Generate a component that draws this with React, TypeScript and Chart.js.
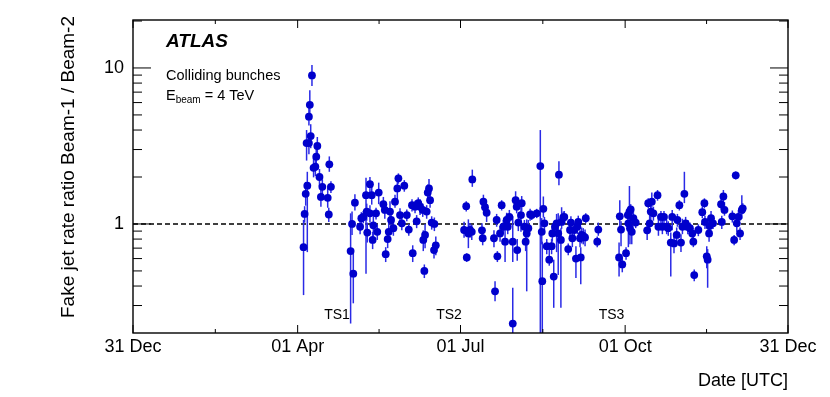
import React, { useEffect, useRef } from 'react';
import { Chart, registerables } from 'chart.js';

Chart.register(...registerables);

// Days since 31 Dec 2011 (2012 run)
const days = [
  95.3, 95.9, 96.5, 97.4, 97.0, 98.3, 98.3, 98.8, 100.0, 99.3,
  100.9, 101.9, 103.0, 102.4, 104.2, 105.8, 105.0, 109.7, 110.6, 108.8,
  109.4, 121.6, 123.1, 122.4, 124.0, 126.9, 127.6, 128.7, 130.2, 130.6,
  130.9, 132.4, 133.4, 132.4, 133.9, 134.3, 135.8, 136.5, 137.3, 139.9,
  140.7, 141.2, 142.3, 142.9, 143.6, 144.2, 145.5, 146.4, 147.7, 148.3,
  149.2, 150.2, 151.6, 153.0, 154.1, 156.3, 155.9, 157.6, 158.5, 159.4,
  160.4, 161.9, 162.2, 162.8, 163.2, 164.1, 164.7, 165.4, 166.0, 166.9,
  168.2, 169.2, 168.4,
  186.2, 185.0, 186.5, 187.4, 188.3, 189.6, 189.3, 195.0, 195.4, 195.8,
  196.7, 197.6, 201.7, 202.3, 203.2, 203.6, 205.1, 206.0, 206.9, 207.9,
  208.8, 209.4, 210.3, 212.2, 212.2, 213.8, 214.4, 214.7, 215.3, 217.2,
  216.8, 218.7, 219.4, 220.0, 220.9, 221.9, 222.8, 225.6, 227.6, 228.7,
  228.4, 229.3, 229.9, 231.2, 232.6, 233.9, 235.1, 234.3, 235.8, 236.7,
  237.6, 238.0, 239.1, 239.5, 240.4, 241.0, 243.2, 244.2, 244.7, 245.5,
  246.6, 247.5, 248.3, 248.8, 249.8, 250.2, 250.7, 251.6, 253.0, 252.6,
  259.4, 260.0,
  271.6, 272.0, 272.7, 273.4, 275.5, 276.5, 277.4, 278.1, 277.7, 278.7,
  279.6, 280.9, 276.8, 287.3, 287.9, 288.7, 289.3, 289.9, 290.8, 293.1,
  293.6, 295.0, 295.8, 296.7, 298.2, 299.1, 300.5, 301.3, 302.3, 303.8,
  304.2, 305.3, 306.2, 307.0, 308.1, 308.8, 310.0, 311.2, 312.5, 313.1,
  313.6, 315.9, 318.1, 319.3, 319.6, 320.6, 321.1, 321.9, 322.1, 323.0,
  324.1, 328.6, 329.0, 329.9, 330.5, 334.9, 335.9, 336.8, 337.4, 338.3,
  339.2, 340.2, 340.7,
];

const ratios = [
  0.71, 1.16, 1.56, 1.76, 3.3, 3.3, 4.87, 5.8, 8.96, 3.66,
  2.29, 2.33, 3.16, 2.7, 2.0, 1.73, 1.49, 2.41, 1.73, 1.47,
  1.15, 0.67, 0.48, 1.0, 1.37, 0.96, 1.09, 1.11, 1.53, 1.2,
  0.88, 1.8, 1.53, 1.17, 0.79, 0.98, 1.17, 0.89, 1.59, 1.34,
  1.23, 0.64, 0.8, 0.89, 1.2, 1.06, 0.94, 1.39, 1.69, 1.96,
  1.14, 1.01, 1.76, 1.14, 0.92, 0.65, 1.32, 1.29, 1.04, 1.36,
  1.29, 1.23, 0.79, 0.5, 0.85, 1.2, 1.59, 1.69, 1.42, 1.02,
  0.68, 0.73, 1.0,
  1.3, 0.915, 0.61, 0.87, 0.915, 1.93, 0.89, 0.91, 0.81, 1.39,
  1.28, 1.18, 0.81, 0.37, 1.06, 0.62, 0.87, 1.32, 0.96, 0.77,
  1.06, 0.96, 1.11, 0.23, 0.77, 1.42, 1.29, 0.68, 1.02, 1.36,
  1.14, 0.96, 0.77, 0.87, 0.94, 1.15, 1.14, 1.17, 2.35, 0.43,
  0.89, 1.25, 1.01, 0.72, 0.59, 0.72, 0.46, 0.87, 0.96, 1.01,
  0.87, 2.07, 0.79, 1.03, 1.1, 1.11, 0.69, 0.915, 1.02, 0.81,
  0.915, 0.6, 0.96, 1.03, 0.81, 0.61, 0.85, 0.84, 1.09, 0.82,
  0.77, 0.92,
  0.61, 1.12, 0.92, 0.55, 0.65, 1.14, 1.2, 1.24, 0.94, 0.89,
  1.09, 1.02, 1.01, 0.91, 1.36, 1.01, 1.2, 1.39, 1.17, 1.53,
  0.96, 1.11, 0.96, 1.11, 0.96, 0.94, 0.76, 1.11, 0.75, 0.85,
  1.06, 1.32, 0.76, 0.96, 1.56, 1.01, 0.96, 0.94, 0.87, 0.77,
  0.47, 0.915, 1.19, 1.36, 1.03, 0.62, 0.59, 0.87, 0.97, 1.09,
  1.01, 1.34, 1.03, 1.5, 1.23, 1.12, 0.79, 2.05, 1.01, 1.11,
  0.87, 1.23, 1.26,
];

const errLow = [
  0.36, 0.14, 0.25, 1.1, 0.75, 0.5, 0.6, 0.9, 1.3, 0.6,
  0.3, 0.3, 0.4, 0.35, 0.25, 0.2, 0.2, 0.25, 0.15, 0.2,
  0.12, 0.44, 0.17, 0.15, 0.15, 0.1, 0.1, 0.1, 1.05, 0.15,
  0.12, 0.2, 0.2, 0.15, 0.1, 0.15, 0.1, 0.1, 0.25, 0.15,
  0.15, 0.07, 0.1, 0.12, 0.15, 0.12, 0.1, 0.12, 0.25, 0.15,
  0.12, 0.1, 0.15, 0.1, 0.08, 0.08, 0.12, 0.12, 0.1, 0.12,
  0.15, 0.12, 0.12, 0.05, 0.15, 0.12, 0.18, 0.2, 0.15, 0.1,
  0.08, 0.1, 0.1,
  0.1, 0.1, 0.04, 0.17, 0.1, 0.2, 0.1, 0.08, 0.08, 0.12,
  0.12, 0.15, 0.1, 0.05, 0.1, 0.05, 0.1, 0.1, 0.1, 0.2,
  0.12, 0.1, 0.12, 0.05, 0.2, 0.15, 0.12, 0.1, 0.12, 0.15,
  0.25, 0.1, 0.1, 0.5, 0.12, 0.1, 0.08, 0.08, 2.15, 0.43,
  0.15, 0.15, 0.1, 0.08, 0.05, 0.08, 0.17, 0.1, 0.08, 0.35,
  0.4, 0.3, 0.5, 0.1, 0.1, 0.1, 0.06, 0.1, 0.1, 0.1,
  0.1, 0.15, 0.1, 0.1, 0.1, 0.2, 0.1, 0.1, 0.08, 0.1,
  0.06, 0.08,
  0.15, 0.2, 0.2, 0.06, 0.06, 0.1, 0.15, 0.1, 0.2, 0.15,
  0.08, 0.08, 0.3, 0.12, 0.1, 0.12, 0.15, 0.12, 0.12, 0.12,
  0.12, 0.1, 0.1, 0.1, 0.1, 0.1, 0.3, 0.2, 0.1, 0.1,
  0.1, 0.1, 0.1, 0.1, 0.2, 0.1, 0.1, 0.08, 0.08, 0.06,
  0.04, 0.08, 0.1, 0.1, 0.1, 0.1, 0.2, 0.1, 0.08, 0.1,
  0.08, 0.1, 0.1, 0.1, 0.1, 0.1, 0.06, 0.12, 0.12, 0.12,
  0.08, 0.15, 0.1,
];

const errHigh = [
  0.35, 0.14, 0.3, 0.4, 0.7, 0.5, 0.7, 1.4, 1.5, 0.7,
  0.35, 0.3, 0.45, 0.4, 0.25, 0.2, 0.2, 0.3, 0.15, 0.25,
  0.12, 0.5, 0.17, 0.2, 0.18, 0.12, 0.1, 0.1, 0.45, 0.15,
  0.14, 0.2, 0.2, 0.15, 0.1, 0.15, 0.1, 0.1, 0.25, 0.15,
  0.15, 0.07, 0.12, 0.15, 0.2, 0.15, 0.1, 0.15, 0.3, 0.15,
  0.12, 0.1, 0.15, 0.1, 0.08, 0.08, 0.12, 0.12, 0.1, 0.12,
  0.15, 0.12, 0.12, 0.05, 0.15, 0.12, 0.2, 0.25, 0.15, 0.1,
  0.08, 0.1, 0.1,
  0.1, 0.12, 0.04, 0.2, 0.1, 0.3, 0.1, 0.1, 0.08, 0.15,
  0.12, 0.15, 0.1, 0.06, 0.1, 0.05, 0.1, 0.1, 0.1, 0.3,
  0.12, 0.15, 0.12, 0.16, 0.35, 0.2, 0.12, 0.12, 0.12, 0.15,
  0.2, 0.1, 0.15, 0.2, 0.12, 0.1, 0.08, 0.08, 1.65, 0.34,
  0.2, 0.25, 0.1, 0.08, 0.1, 0.08, 0.13, 0.1, 0.08, 0.15,
  0.3, 0.45, 0.15, 0.25, 0.1, 0.1, 0.06, 0.1, 0.1, 0.12,
  0.1, 0.12, 0.1, 0.1, 0.1, 0.1, 0.1, 0.1, 0.08, 0.1,
  0.06, 0.1,
  0.15, 0.3, 0.12, 0.06, 0.06, 0.1, 0.55, 0.1, 0.15, 0.1,
  0.1, 0.08, 0.15, 0.1, 0.1, 0.15, 0.25, 0.2, 0.12, 0.12,
  0.12, 0.1, 0.1, 0.1, 0.1, 0.1, 0.12, 0.12, 0.1, 0.1,
  0.1, 0.1, 0.1, 0.12, 0.6, 0.1, 0.1, 0.08, 0.08, 0.06,
  0.04, 0.08, 0.1, 0.1, 0.1, 0.1, 0.1, 0.2, 0.08, 0.12,
  0.08, 0.1, 0.1, 0.15, 0.15, 0.1, 0.06, 0.12, 0.12, 0.12,
  0.08, 0.3, 0.1,
];

const xTickDays = [0, 92, 183, 275, 366];
const xTickLabels = ['31 Dec', '01 Apr', '01 Jul', '01 Oct', '31 Dec'];
const xMinorDays = [46, 137.5, 229, 320.5];
const yMajorTicks = [1, 10];
const yMinorTicks = [0.3, 0.4, 0.5, 0.6, 0.7, 0.8, 0.9, 2, 3, 4, 5, 6, 7, 8, 9, 20];
const stopLabels = ['TS1', 'TS2', 'TS3'];
const stopDays = [114, 176.6, 267.4];
const refRatio = 1;

const FONT = "'Liberation Sans', Arial, Helvetica, sans-serif";

const decorPlugin = {
  id: 'atlasDecor',
  beforeDatasetsDraw(chart: any) {
    const { ctx, chartArea: a, scales } = chart;
    const x = scales.x;
    const y = scales.y;
    // reference line
    ctx.save();
    ctx.strokeStyle = '#000';
    ctx.lineWidth = 1.4;
    ctx.setLineDash([5, 3]);
    const py = y.getPixelForValue(refRatio);
    ctx.beginPath();
    ctx.moveTo(a.left, py);
    ctx.lineTo(a.right, py);
    ctx.stroke();
    ctx.restore();
    // error bars
    ctx.save();
    ctx.beginPath();
    ctx.rect(a.left, a.top, a.right - a.left, a.bottom - a.top);
    ctx.clip();
    ctx.strokeStyle = '#2a2ae6';
    ctx.lineWidth = 1.5;
    for (let i = 0; i < days.length; i++) {
      const px = x.getPixelForValue(days[i]);
      const lo = ratios[i] - errLow[i];
      const hi = ratios[i] + errHigh[i];
      const pLo = lo > 0 ? y.getPixelForValue(lo) : a.bottom + 5;
      const pHi = y.getPixelForValue(hi);
      ctx.beginPath();
      ctx.moveTo(px, pLo);
      ctx.lineTo(px, pHi);
      ctx.stroke();
    }
    ctx.restore();
  },
  afterDraw(chart: any) {
    const { ctx, chartArea: a, scales } = chart;
    const x = scales.x;
    const y = scales.y;
    ctx.save();
    ctx.strokeStyle = '#000';
    // ticks
    ctx.lineWidth = 1;
    const tick = (x1: number, y1: number, x2: number, y2: number) => {
      ctx.beginPath();
      ctx.moveTo(x1, y1);
      ctx.lineTo(x2, y2);
      ctx.stroke();
    };
    xTickDays.forEach((d) => {
      const px = x.getPixelForValue(d);
      tick(px, a.bottom, px, a.bottom - 8);
      tick(px, a.top, px, a.top + 8);
    });
    xMinorDays.forEach((d) => {
      const px = x.getPixelForValue(d);
      tick(px, a.bottom, px, a.bottom - 4);
      tick(px, a.top, px, a.top + 4);
    });
    yMajorTicks.forEach((v) => {
      const py = y.getPixelForValue(v);
      tick(a.left, py, a.left + 18, py);
      tick(a.right, py, a.right - 18, py);
    });
    yMinorTicks.forEach((v) => {
      const py = y.getPixelForValue(v);
      tick(a.left, py, a.left + 9, py);
      tick(a.right, py, a.right - 9, py);
    });
    // frame
    ctx.lineWidth = 1.4;
    ctx.strokeRect(a.left, a.top, a.right - a.left, a.bottom - a.top);

    // texts
    ctx.fillStyle = '#000';
    ctx.font = `bold italic 19px ${FONT}`;
    ctx.textAlign = 'left';
    ctx.textBaseline = 'alphabetic';
    ctx.fillText('ATLAS', 166, 47);

    ctx.font = `14.5px ${FONT}`;
    ctx.fillText('Colliding bunches', 166, 80);
    ctx.fillText('E', 166, 100);
    const ew = ctx.measureText('E').width;
    ctx.font = `10px ${FONT}`;
    ctx.fillText('beam', 166 + ew, 103);
    const bw = ctx.measureText('beam').width;
    ctx.font = `14.5px ${FONT}`;
    ctx.fillText(' = 4 TeV', 166 + ew + bw, 100);

    ctx.font = `14px ${FONT}`;
    ctx.textAlign = 'center';
    stopLabels.forEach((t, i) => {
      ctx.fillText(t, x.getPixelForValue(stopDays[i]), 319);
    });

    ctx.font = `18px ${FONT}`;
    ctx.textAlign = 'right';
    ctx.fillText('Date [UTC]', a.right, 386);

    ctx.save();
    ctx.translate(69, a.top - 4);
    ctx.rotate(-Math.PI / 2);
    ctx.textAlign = 'right';
    ctx.textBaseline = 'middle';
    ctx.font = `19px ${FONT}`;
    ctx.fillText('Fake jet rate ratio Beam-1 / Beam-2', 0, 0);
    ctx.restore();

    ctx.restore();
  },
};

export default function App() {
  const ref = useRef<HTMLCanvasElement | null>(null);
  useEffect(() => {
    if (!ref.current) return;
    const chart = new Chart(ref.current, {
      type: 'scatter',
      data: {
        datasets: [
          {
            data: days.map((d, i) => ({ x: d, y: ratios[i] })),
            backgroundColor: '#0000cc',
            borderWidth: 0,
            pointRadius: 3.9,
            pointHoverRadius: 3.9,
          },
        ],
      },
      options: {
        responsive: false,
        animation: false,
        events: [],
        layout: { padding: { left: 0, right: 42, top: 20, bottom: 0 } },
        plugins: { legend: { display: false }, tooltip: { enabled: false } },
        scales: {
          x: {
            type: 'linear',
            min: 0,
            max: 366,
            afterBuildTicks: (s: any) => {
              s.ticks = xTickDays.map((v) => ({ value: v }));
            },
            afterFit: (s: any) => {
              s.height = 64;
            },
            grid: { display: false, drawTicks: false },
            border: { display: false },
            ticks: {
              autoSkip: false,
              maxRotation: 0,
              padding: 3,
              color: '#000',
              font: { family: FONT, size: 18 },
              callback: (_v: any, i: number) => xTickLabels[i],
            },
          },
          y: {
            type: 'logarithmic',
            min: 0.2,
            max: 20.3,
            afterBuildTicks: (s: any) => {
              s.ticks = yMajorTicks.map((v) => ({ value: v }));
            },
            afterFit: (s: any) => {
              s.width = 133;
            },
            grid: { display: false, drawTicks: false },
            border: { display: false },
            ticks: {
              padding: 9,
              color: '#000',
              font: { family: FONT, size: 18 },
              callback: (v: any) => String(v),
            },
          },
        },
      },
      plugins: [decorPlugin],
    });
    return () => chart.destroy();
  }, []);
  return (
    <div style={{ position: 'absolute', left: 0, top: 0, width: 830, height: 397, background: '#fff' }}>
      <canvas ref={ref} width={830} height={397} style={{ display: 'block' }} />
    </div>
  );
}
